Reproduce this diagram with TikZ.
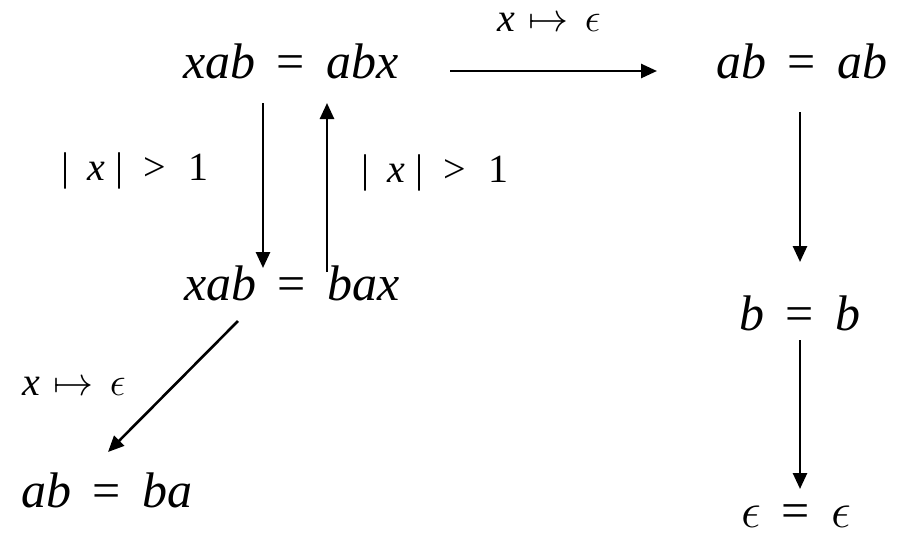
\RequirePackage{fix-cm}
\documentclass[tikz,border=0pt]{standalone}
\usepackage{fontspec}
\setmainfont{Liberation Serif}[ItalicFont={Liberation Serif Italic}]
\usetikzlibrary{arrows.meta,calc}
\newcommand\myeq{\hspace{0.42em}=\hspace{0.42em}}
\newcommand\myeps{$\epsilon$}
\newcommand\mymaps{\hspace{0.35em}$\mapsto$\hspace{0.4em}}
\newcommand\mygt{|\hspace{0.5em}>\hspace{0.55em}1}
\tikzset{
  big/.style={inner sep=0pt, anchor=base, font=\fontsize{50}{60}\selectfont},
  lab/.style={inner sep=0pt, anchor=base, font=\fontsize{40}{48}\selectfont},
  arr/.style={line width=2.6pt, -{Triangle[length=16pt,width=14pt]}},
}
\begin{document}
\begin{tikzpicture}[x=1pt,y=-1pt]
\useasboundingbox (0,0) rectangle (905,544);
\node[big] (n1) at (291,78) {\textit{xab}\myeq\textit{abx}};
\node[big] (n2) at (802,78) {\textit{ab}\myeq\textit{ab}};
\node[big] (n3) at (292,300) {\textit{xab}\myeq\textit{bax}};
\node[big] (n4) at (107,507) {\textit{ab}\myeq\textit{ba}};
\node[big] (n5) at (800,330) {\textit{b}\myeq\textit{b}};
\node[big] (n6) at (796,527) {\myeps\myeq\myeps};
\node[lab] (l1) at (549,31) {\textit{x}\mymaps\myeps};
\node[lab] (l2) at (135,180) {|\hspace{0.45em}\textit{x}\hspace{0.25em}\mygt};
\node[lab] (l3) at (435,182) {|\hspace{0.45em}\textit{x}\hspace{0.25em}\mygt};
\node[lab] (l4) at (74,395) {\textit{x}\mymaps\myeps};
\draw[arr] ($(n1.base)+(159,-7)$) -- ($(n2.base)+(-145,-7)$);
\draw[arr] ($(n1.base)+(-28,25)$) -- ($(n3.base)+(-29,-32)$);
\draw[arr] ($(n3.base)+(35,-28)$) -- ($(n1.base)+(36,25)$);
\draw[arr] ($(n3.base)+(-54,21)$) -- ($(n4.base)+(1,-55)$);
\draw[arr] ($(n2.base)+(-2,34)$) -- ($(n5.base)+(0,-68)$);
\draw[arr] ($(n5.base)+(0,10)$) -- ($(n6.base)+(4,-38)$);
\end{tikzpicture}
\end{document}
